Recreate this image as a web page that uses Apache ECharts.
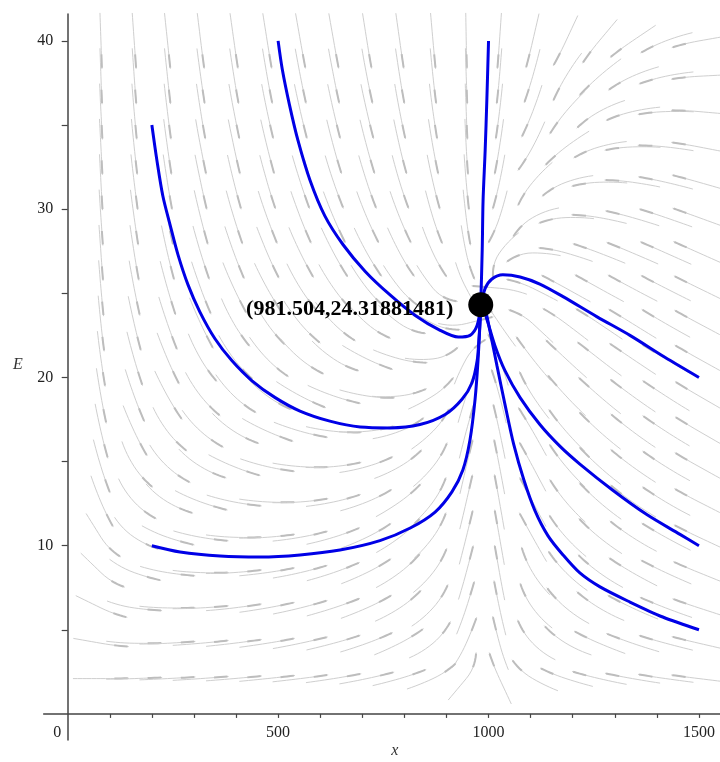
<!DOCTYPE html>
<html><head><meta charset="utf-8">
<script src="https://cdn.jsdelivr.net/npm/echarts@6/dist/echarts.min.js"></script>
<style>html,body{margin:0;padding:0;background:#fff}#c{width:720px;height:762px}</style>
</head><body><div id="c"></div>
<script>
// direction-field grid (x positions, E positions) and read line directions (deg, 0=right, 90=up)
const fieldX = [79,158,237,316,395,474,553,632,711,789,868,947,1026,1105,1184,1263,1342,1421,1500];
const fieldE = [40,37.9,35.8,33.7,31.6,29.5,27.4,25.3,23.2,21.1,18.9,16.8,14.7,12.6,10.5,8.4,6.3,4.2,2.1];
const fieldAngles = [
 [-88,-86,-84,-83,-82,-81,-80,-80,-81,-82,-85,-89,-94,-103,-115,-130,-146,-159,-170],
 [-88,-86,-84,-82,-81,-80,-79,-79,-79,-81,-84,-88,-95,-106,-121,-139,-156,-168,-177],
 [-87,-85,-83,-81,-79,-78,-77,-77,-77,-79,-82,-88,-97,-111,-130,-151,-167,-178,175],
 [-87,-84,-82,-79,-78,-76,-75,-75,-75,-77,-80,-87,-99,-118,-143,-164,-178,174,169],
 [-87,-83,-81,-78,-76,-74,-72,-71,-72,-73,-77,-85,-102,-130,-160,-178,172,167,164],
 [-86,-82,-79,-76,-73,-70,-69,-67,-67,-68,-73,-83,-108,-150,-178,170,164,161,160],
 [-86,-81,-77,-73,-70,-67,-64,-62,-61,-62,-65,-78,-125,-180,164,159,157,156,156],
 [-85,-79,-74,-70,-65,-61,-58,-55,-52,-51,-51,-62,175,154,151,151,152,153,154],
 [-84,-77,-71,-65,-60,-55,-50,-45,-41,-35,-27,14,124,137,143,146,148,150,152],
 [-82,-74,-67,-60,-53,-46,-40,-34,-26,-15,6,61,110,128,137,142,146,149,151],
 [-80,-70,-61,-52,-44,-36,-28,-19,-9,6,32,72,105,123,133,139,144,147,150],
 [-77,-65,-53,-42,-33,-24,-16,-6,5,21,45,75,102,120,131,138,143,147,150],
 [-73,-57,-43,-31,-22,-13,-4,5,16,30,51,77,101,118,130,138,144,148,151],
 [-67,-47,-31,-20,-11,-3,4,12,22,35,54,77,100,118,130,139,145,149,153],
 [-58,-34,-19,-10,-2,4,10,17,26,37,54,76,100,119,132,141,147,151,155],
 [-44,-20,-9,-2,4,8,13,19,26,37,52,75,100,121,135,144,150,155,158],
 [-26,-8,-1,3,7,10,14,18,24,33,48,72,102,126,140,149,155,159,162],
 [-10,-1,3,5,7,9,12,15,20,27,40,66,105,134,149,157,161,165,167],
 [0,2,3,4,5,6,7,9,12,16,25,50,115,150,162,167,170,172,173]
];

// solution curves
const trajA_x = [200,212,226,243,262,286,314,350,390,438,493,552,623,695,766,837,897,937,961,973,977,980,981.5];
const trajA_E = [35,32.9,30.8,29.1,27.3,25.5,23.9,22.3,21.0,19.8,18.8,18.0,17.4,17.05,17.0,17.2,17.8,18.7,19.7,21.0,22.2,23.4,24.32];
const trajB_x = [500,510,527,547,576,611,654,707,766,825,885,928,956,973,981.5];
const trajB_E = [40,38.3,36.2,34.1,31.7,29.6,27.9,26.3,24.9,23.7,22.8,22.4,22.5,23.1,24.32];
const trajC_x = [1000,996,992,987,985,981.5];
const trajC_E = [40,36.5,33.5,30.5,27.6,24.32];
const trajD_x = [1500,1419,1336,1258,1177,1122,1075,1034,1008,992,985,981.5];
const trajD_E = [20,21.2,22.5,23.6,24.8,25.55,25.97,26.1,25.85,25.3,24.6,24.32];
const trajE_x = [1500,1455,1376,1296,1217,1170,1122,1075,1039,1015,998,989,981.5];
const trajE_E = [10,10.67,11.85,13.28,14.85,15.9,17.2,18.8,20.4,21.9,23.3,24.0,24.32];
const trajF_x = [1500,1414,1336,1265,1217,1177,1141,1110,1084,1060,1039,1020,1003,992,981.5];
const trajF_E = [5,5.76,6.65,7.55,8.38,9.45,10.6,12.1,13.9,16.0,18.4,20.7,22.8,24.0,24.32];
const trajG_x = [200,267,362,457,552,647,742,814,873,913,939,956,968,975,980,981.5];
const trajG_E = [10,9.63,9.39,9.33,9.45,9.74,10.3,11.05,12.0,13.2,14.5,16.3,18.7,21.0,23.4,24.32];

const eqX = 981.504, eqE = 24.31881481;

const xTickValues = [100,200,300,400,500,600,700,800,900,1000,1100,1200,1300,1400,1500];
const xLabelValues = [0,500,1000,1500];
const yTickValues = [5,10,15,20,25,30,35,40];
const yLabelValues = [10,20,30,40];

const fieldData = [];
fieldE.forEach((e, r) => fieldX.forEach((x, c) => fieldData.push([x, e, fieldAngles[r][c]])));
const nC = fieldX.length, nR = fieldE.length;

const zip = (xs, es) => xs.map((x, i) => [x, es[i]]);
const trajs = [[trajA_x,trajA_E],[trajB_x,trajB_E],[trajC_x,trajC_E],[trajD_x,trajD_E],[trajE_x,trajE_E],[trajF_x,trajF_E],[trajG_x,trajG_E]];

// helpers for drawing each field line as a short curved streak
function angAt(r, c) { return (r < 0 || r >= nR || c < 0 || c >= nC) ? null : fieldAngles[r][c]; }
function blend(a0, a1, w) {
  if (a1 === null) return a0;
  const d = ((a1 - a0 + 540) % 360) - 180;
  return Math.abs(d) > 70 ? a0 : a0 + w * d;
}
function dir(a) { const t = a * Math.PI / 180; return [Math.cos(t), -Math.sin(t)]; }
function quad(p0, cp, p1, t) {
  const s = 1 - t;
  return [s * s * p0[0] + 2 * s * t * cp[0] + t * t * p1[0], s * s * p0[1] + 2 * s * t * cp[1] + t * t * p1[1]];
}

const serif = 'Liberation Serif, Times New Roman, serif';
const chart = echarts.init(document.getElementById('c'), null, {renderer: 'canvas'});
chart.setOption({
  animation: false,
  backgroundColor: '#fff',
  grid: {left: 43.7, right: 0, top: 14, bottom: 22, containLabel: false, outerBoundsMode: 'none'},
  xAxis: {
    type: 'value', min: -57, max: 1550,
    axisLine: {onZero: true, lineStyle: {color: '#444', width: 1.5}},
    axisTick: {show: true, customValues: xTickValues, length: 4, lineStyle: {color: '#444', width: 1.2}},
    axisLabel: {customValues: xLabelValues, margin: -15, fontFamily: serif, fontSize: 16, color: '#222',
      formatter: v => v === 0 ? '{z|0}' : String(v),
      rich: {z: {padding: [0, 21, 0, 0], fontFamily: serif, fontSize: 16, color: '#222'}}},
    splitLine: {show: false},
    name: 'x', nameLocation: 'middle', nameGap: 3, nameMoveOverlap: false,
    nameTextStyle: {fontFamily: serif, fontStyle: 'italic', fontSize: 16, color: '#333', padding: [0, 0, 0, 26]}
  },
  yAxis: {
    type: 'value', min: -1.55, max: 41.6,
    axisLine: {onZero: true, lineStyle: {color: '#444', width: 1.5}},
    axisTick: {show: true, customValues: yTickValues, length: 6, lineStyle: {color: '#444', width: 1.2}},
    axisLabel: {customValues: yLabelValues, margin: -9.5, fontFamily: serif, fontSize: 16, color: '#222'},
    splitLine: {show: false},
    name: 'E', nameLocation: 'middle', nameRotate: 0, nameGap: 21, nameMoveOverlap: false,
    nameTextStyle: {fontFamily: serif, fontStyle: 'italic', fontSize: 16, color: '#333', verticalAlign: 'bottom', padding: [0, 0, 4, 0]}
  },
  series: [
    {
      type: 'custom', data: fieldData, encode: {x: 0, y: 1}, z: 1, silent: true,
      renderItem: function (params, api) {
        const idx = params.dataIndex;
        const r = Math.floor(idx / nC), ci = idx % nC;
        const p = api.coord([api.value(0), api.value(1)]);
        const t0 = api.value(2);
        const d0 = dir(t0);
        const ahead = angAt(r + Math.round(d0[1]), ci + Math.round(d0[0]));
        const behind = angAt(r - Math.round(d0[1]), ci - Math.round(d0[0]));
        const dA = dir(blend(t0, ahead, 0.35)), dB = dir(blend(t0, behind, 0.35));
        const h = 28;
        const S = [p[0] - h * dB[0], p[1] - h * dB[1]];
        const E = [p[0] + h * dA[0], p[1] + h * dA[1]];
        const cB = [p[0] - h / 2 * d0[0], p[1] - h / 2 * d0[1]];
        const cA = [p[0] + h / 2 * d0[0], p[1] + h / 2 * d0[1]];
        const pts = [];
        for (let k = 0; k <= 6; k++) pts.push(quad(S, cB, p, k / 6));
        for (let k = 1; k <= 6; k++) pts.push(quad(p, cA, E, k / 6));
        const dash = [];
        for (let k = 0; k <= 4; k++) dash.push(quad(p, cA, E, 0.48 + 0.48 * k / 4));
        return {type: 'group', children: [
          {type: 'polyline', shape: {points: pts}, style: {stroke: '#cfcfcf', lineWidth: 1, fill: null}},
          {type: 'polyline', shape: {points: dash}, style: {stroke: '#bdbdbd', lineWidth: 2, fill: null}}
        ]};
      }
    },
    ...trajs.map(t => ({
      type: 'line', data: zip(t[0], t[1]), smooth: 0.3, showSymbol: false, symbol: 'none', z: 3,
      lineStyle: {color: '#0000e6', width: 3}
    })),
    {
      type: 'scatter', data: [[eqX, eqE]], symbolSize: 25, z: 5,
      itemStyle: {color: '#000', opacity: 1},
      label: {show: true, position: 'left', distance: 15, offset: [0, 5],
        formatter: () => '(' + eqX + ',' + eqE + ')',
        fontFamily: serif, fontWeight: 'bold', fontSize: 22, color: '#000'}
    }
  ]
});
</script></body></html>
